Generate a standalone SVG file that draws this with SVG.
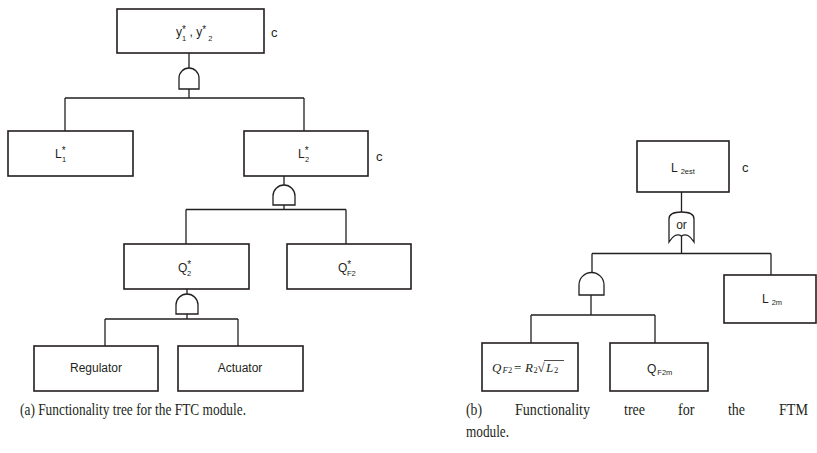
<svg xmlns="http://www.w3.org/2000/svg" width="817" height="453" viewBox="0 0 817 453">
<style>
.box{fill:#fff;stroke:#231f20;stroke-width:1.6}
.ln{fill:none;stroke:#231f20;stroke-width:1.3}
.gate{fill:#fff;stroke:#231f20;stroke-width:1.3}
.t{font-family:"Liberation Sans",Arial,sans-serif;font-size:12px;fill:#231f20}
.s{font-size:7.5px}
.a{font-size:10px}
.c{font-family:"Liberation Sans",Arial,sans-serif;font-size:13px;fill:#231f20}
.cap{font-family:"Liberation Serif","Times New Roman",serif;font-size:16px;fill:#231f20}
.m{font-family:"Liberation Serif","Times New Roman",serif;font-style:italic;font-size:13px;fill:#231f20}
.mn{font-style:normal}
.ms{font-size:8.5px}
</style>
<rect width="817" height="453" fill="#fff"/>
<g id="connectors">
<path class="ln" d="M189,53V68M189,89V98M65,98H304M65,98V131M304,98V131"/>
<path class="ln" d="M284,176V185M284,205V209.5M186,209.5H346M186,209.5V244M346,209.5V244"/>
<path class="ln" d="M187,289V295M187,314V319M105,319H238M105,319V346M238,319V346"/>
<path class="ln" d="M681.5,192V212M681.5,236V253.5M592,253.5H771M592,253.5V273M771,253.5V275"/>
<path class="ln" d="M591,295V315M531,315H655M531,315V343M655,315V343"/>
</g>
<g id="gate1"><path class="gate" d="M179,89V78A10,10 0 0 1 199,78V89Z"/></g>
<g id="gate2"><path class="gate" d="M273,205V196A11,11 0 0 1 295,196V205Z"/></g>
<g id="gate3"><path class="gate" d="M176,314V305A11,11 0 0 1 198,305V314Z"/></g>
<g id="gate4"><path class="gate" d="M579,295V285A12.5,12.5 0 0 1 604,285V295Z"/></g>
<g id="orgate">
<path class="gate" d="M669,242V219Q669,212 681.5,212Q694,212 694,219V242Q688,232 681.5,236Q675,232 669,242Z"/>
<text class="t" x="681.5" y="229" text-anchor="middle" font-size="11">or</text>
</g>
<g id="n_top">
<rect class="box" x="117" y="9" width="147" height="44"/>
<text class="t" x="176" y="36">y<tspan class="a" dy="-3">*</tspan><tspan class="s" x="182" dy="8">1</tspan><tspan dy="-5"> , y</tspan><tspan class="a" dy="-3">*</tspan><tspan class="s" dy="8"> 2</tspan></text>
<text class="c" x="271" y="37">c</text>
</g>
<g id="n_L1">
<rect class="box" x="8" y="131" width="125" height="45"/>
<text class="t" x="55" y="158">L<tspan class="a" dy="-4">*</tspan><tspan class="s" x="62" dy="8">1</tspan></text>
</g>
<g id="n_L2">
<rect class="box" x="244" y="131" width="124" height="45"/>
<text class="t" x="298" y="158">L<tspan class="a" dy="-4">*</tspan><tspan class="s" x="305" dy="8">2</tspan></text>
<text class="c" x="376" y="161">c</text>
</g>
<g id="n_Q2">
<rect class="box" x="124" y="244" width="125" height="45"/>
<text class="t" x="178" y="272">Q<tspan class="a" dy="-4">*</tspan><tspan class="s" x="187" dy="8">2</tspan></text>
</g>
<g id="n_QF2">
<rect class="box" x="287" y="244" width="124" height="45"/>
<text class="t" x="338" y="272">Q<tspan class="a" dy="-4">*</tspan><tspan class="s" x="347" dy="8">F2</tspan></text>
</g>
<g id="n_reg">
<rect class="box" x="34" y="346" width="124" height="45"/>
<text class="t" x="96" y="372" text-anchor="middle">Regulator</text>
</g>
<g id="n_act">
<rect class="box" x="178" y="346" width="125" height="45"/>
<text class="t" x="240" y="372" text-anchor="middle">Actuator</text>
</g>
<g id="n_L2est">
<rect class="box" x="637" y="141" width="92" height="51"/>
<text class="t" x="671" y="172" font-size="13">L<tspan class="s" dx="3" dy="2">2est</tspan></text>
<text class="c" x="742" y="172">c</text>
</g>
<g id="n_L2m">
<rect class="box" x="724" y="275" width="92" height="48"/>
<text class="t" x="762" y="303" font-size="13">L<tspan class="s" dx="3" dy="2">2m</tspan></text>
</g>
<g id="n_formula">
<rect class="box" x="482" y="343" width="96" height="48"/>
<text class="m" y="372"><tspan x="492">Q</tspan><tspan class="ms" x="502.5" dy="1">F</tspan><tspan class="ms mn" x="508">2</tspan><tspan class="mn" x="514" dy="-1">=</tspan><tspan x="525">R</tspan><tspan class="ms mn" x="533.5" dy="1">2</tspan><tspan class="mn" x="537.5" dy="-1">√</tspan><tspan x="546">L</tspan><tspan class="ms mn" x="554" dy="1">2</tspan></text>
<line x1="544" y1="360.5" x2="564" y2="360.5" stroke="#231f20" stroke-width="0.8"/>
</g>
<g id="n_QF2m">
<rect class="box" x="610" y="343" width="98" height="48"/>
<text class="t" x="647" y="373" font-size="13">Q<tspan class="s" dx="1" dy="2">F2m</tspan></text>
</g>
<g id="captions">
<text class="cap" x="20" y="415" textLength="226" lengthAdjust="spacingAndGlyphs">(a) Functionality tree for the FTC module.</text>
<text class="cap" x="466" y="415" textLength="16" lengthAdjust="spacingAndGlyphs">(b)</text>
<text class="cap" x="515" y="415" textLength="75" lengthAdjust="spacingAndGlyphs">Functionality</text>
<text class="cap" x="624" y="415" textLength="21" lengthAdjust="spacingAndGlyphs">tree</text>
<text class="cap" x="678" y="415" textLength="16.5" lengthAdjust="spacingAndGlyphs">for</text>
<text class="cap" x="728" y="415" textLength="17" lengthAdjust="spacingAndGlyphs">the</text>
<text class="cap" x="779" y="415" textLength="29" lengthAdjust="spacingAndGlyphs">FTM</text>
<text class="cap" x="466" y="437" textLength="43" lengthAdjust="spacingAndGlyphs">module.</text>
</g>
</svg>
